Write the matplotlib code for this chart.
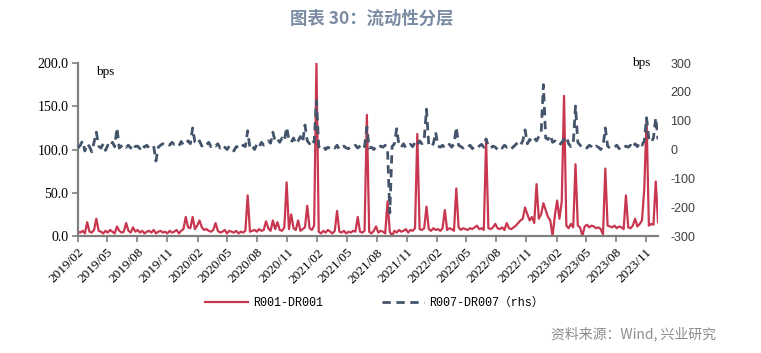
import matplotlib
matplotlib.use("Agg")
from matplotlib import pyplot as plt
import matplotlib.dates as mdates
import pandas as pd

# weekly readings, starting 2019-02-01
r001 = [5, 4, 6, 3, 16, 5, 4, 7, 20, 6,
        5, 3, 6, 4, 7, 5, 3, 11, 6, 4,
        5, 15, 6, 4, 10, 5, 7, 4, 6, 3,
        5, 6, 4, 7, 3, 5, 6, 4, 5, 3,
        6, 4, 5, 7, 3, 6, 8, 22, 10, 9,
        22, 8, 12, 18, 10, 7, 8, 6, 5, 7,
        15, 6, 4, 5, 7, 3, 6, 5, 4, 6,
        3, 5, 4, 6, 47, 5, 6, 7, 5, 8,
        6, 7, 17, 9, 6, 18, 8, 16, 7, 6,
        10, 62, 8, 25, 9, 7, 18, 6, 8, 10,
        35, 9, 7, 12, 200, 5, 3, 6, 4, 7,
        5, 3, 6, 29, 5, 4, 6, 3, 5, 4,
        6, 5, 22, 5, 4, 6, 140, 5, 3, 6,
        11, 4, 6, 5, 3, 40, 5, 0, 6, 4,
        7, 5, 6, 8, 4, 7, 6, 9, 118, 8,
        7, 9, 34, 8, 6, 9, 7, 8, 6, 9,
        30, 7, 9, 8, 6, 55, 10, 7, 9, 8,
        7, 9, 8, 10, 12, 8, 9, 7, 110, 9,
        8, 10, 14, 9, 8, 10, 7, 15, 9, 8,
        10, 12, 15, 18, 20, 33, 25, 18, 22, 15,
        60, 20, 25, 38, 30, 22, 18, 0, 24, 41,
        20, 40, 162, 12, 9, 14, 10, 83, 12, 10,
        0, 11, 13, 10, 12, 11, 9, 10, 8, 2,
        78, 12, 11, 10, 12, 9, 11, 10, 8, 47,
        10, 9, 12, 20, 11, 14, 18, 55, 136, 12,
        14, 13, 63, 16]

r007 = [5, 15, 30, -5, 20, 10, -8, 25, 60, 12,
        5, 20, -3, 15, 8, 25, 10, 75, 5, 12,
        18, 8, 15, 5, 20, 10, 12, 3, 18, 8,
        15, 5, 10, 12, -40, 8, 15, 20, 18, 22,
        15, 25, 18, 20, 12, 28, 15, 22, 30, 20,
        75, 25, 18, 30, 12, 20, 15, 25, 10, 18,
        12, 20, 5, 15, 8, 0, 12, 5, -5, 10,
        8, 3, 15, 10, 65, 5, 12, 0, 18, 8,
        25, 15, 20, 30, 22, 60, 28, 35, 25, 40,
        30, 77, 35, 25, 40, 20, 30, 45, 25, 85,
        30, 20, 35, 25, 170, 10, 5, 12, 0, 8,
        3, 10, 5, 15, 0, 8, 12, 5, 3, 10,
        8, 15, 5, 12, 20, 10, 78, 5, 8, 0,
        10, 5, 12, 8, 15, 3, -220, 10, 20, 72,
        15, 8, 20, 5, 12, 18, 10, 25, 15, 30,
        20, 35, 140, 15, 10, 20, 60, 12, 8, 15,
        5, 10, 18, 8, 20, 77, 15, 10, 5, 12,
        8, 15, 3, 10, 5, 12, 18, 8, 37, 10,
        5, 12, 8, 0, 10, 5, 15, 8, 12, 3,
        10, 18, 25, 15, 30, 68, 20, 35, 28, 40,
        30, 45, 55, 225, 40, 35, 50, 25, 30, 20,
        15, 25, 35, 45, 20, 10, 18, 151, 25, 15,
        8, 12, 5, 15, 10, 3, 12, 8, 0, 10,
        75, 12, 5, 10, 8, 15, 3, 10, 5, 12,
        8, 15, 5, 20, 10, 25, 15, 30, 110, 35,
        25, 40, 110, 35]

dates = pd.date_range("2019-02-01", periods=len(r001), freq="7D")
tick_dates = pd.date_range("2019-02-01", "2023-11-01", freq="3MS")

red = "#C8374F"
navy = "#44546A"
grey = "#808080"

fig = plt.figure(figsize=(7.61, 3.53), dpi=100)
ax = fig.add_axes([0.1025, 0.3314, 0.7622, 0.4901])
ax2 = ax.twinx()

ax.plot(dates, r001, color=red, lw=1.6, label="R001-DR001")
ax2.plot(dates, r007, color=navy, lw=2, dashes=(3, 2), label="R007-DR007（rhs）")

ax.set_ylim(0, 200)
ax.set_yticks([0, 50, 100, 150, 200])
ax.set_yticklabels(["0.0", "50.0", "100.0", "150.0", "200.0"],
                   family="Liberation Serif", fontsize=10)
ax2.set_ylim(-300, 300)
ax2.set_yticks(range(-300, 301, 100))
ax2.set_yticklabels([str(v) for v in range(-300, 301, 100)],
                    family="Liberation Sans", fontsize=9, color="#404040")

ax.set_xlim(dates[0], dates[-1])
ax.set_xticks(tick_dates)
ax.set_xticklabels([d.strftime("%Y/%m") for d in tick_dates], rotation=45,
                   ha="right", rotation_mode="anchor",
                   family="Liberation Serif", fontsize=9.5)

for a in (ax, ax2):
    a.spines["top"].set_visible(False)
    a.spines["right"].set_visible(False)
ax2.spines["left"].set_visible(False)
ax2.spines["bottom"].set_visible(False)
ax.spines["left"].set_color(grey)
ax.spines["bottom"].set_color(grey)
ax.spines["left"].set_linewidth(1.6)
ax.spines["bottom"].set_linewidth(1.6)
ax.tick_params(axis="both", color=grey, length=4, width=1.2)
ax.tick_params(axis="y", pad=3)
ax2.tick_params(axis="y", length=0, pad=9)

ax.text(0.031, 0.948, "bps", transform=ax.transAxes, family="Liberation Serif",
        fontsize=9.5, va="center")
ax.text(0.955, 1.0, "bps", transform=ax.transAxes, family="Liberation Serif",
        fontsize=9.5, va="center")

fig.text(0.488, 0.948, "图表 30：流动性分层", ha="center", va="center",
         family=["Noto Sans CJK SC", "DejaVu Sans"], fontsize=12.5,
         fontweight="bold", color="#7B8BA2")
fig.text(0.941, 0.054, "资料来源：Wind, 兴业研究", ha="right", va="center",
         family=["Noto Sans CJK SC", "DejaVu Sans"], fontsize=10, color="#8C8C8C")

h1, l1 = ax.get_legend_handles_labels()
h2, l2 = ax2.get_legend_handles_labels()
fig.legend(h1 + h2, l1 + l2, loc="center", bbox_to_anchor=(0.492, 0.142), ncol=2,
           frameon=False, handlelength=3.6, handletextpad=0.4, columnspacing=5,
           prop={"family": ["Liberation Mono", "Noto Sans CJK SC"], "size": 8.5})

fig.savefig("out.png", dpi=100)
